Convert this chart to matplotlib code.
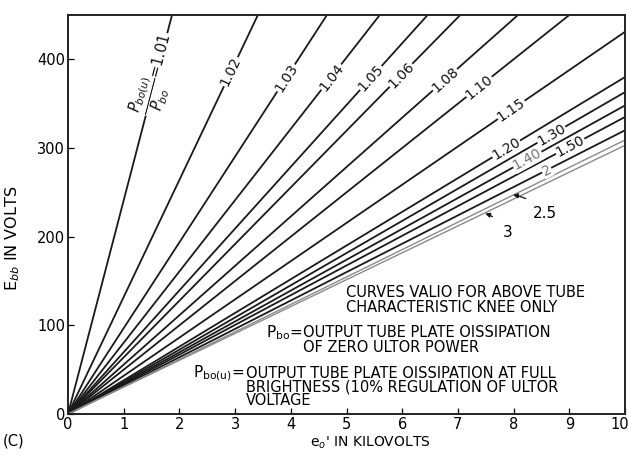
import numpy as np
import matplotlib.pyplot as plt
import matplotlib.transforms as mtransforms

# Ratio P_bo(u)/P_bo for each curve and its slope (E_bb volts per kV of e_o')
ratios = ["1.01", "1.02", "1.03", "1.04", "1.05", "1.06", "1.08", "1.10",
          "1.15", "1.20", "1.30", "1.40", "1.50", "2", "2.5", "3"]
slopes = [241.0, 132.0, 96.8, 80.4, 69.7, 63.9, 55.7, 50.0,
          43.1, 38.0, 36.3, 34.8, 33.5, 32.0, 30.9, 30.3]
# label position along each curve (E_bb value in volts)
label_y = [383, 386, 379, 380, 379, 382, 377, 369,
           343, 299, 315, 287, 302, 275, None, None]

x_ticks = list(range(0, 11))
y_ticks = [0, 100, 200, 300, 400]

W, H = 629, 455
fig = plt.figure(figsize=(W / 100, H / 100), dpi=100)
ax = fig.add_axes([68 / W, (H - 414) / H, (625 - 68) / W, (414 - 15) / H])
ax.set_xlim(0, 10)
ax.set_ylim(0, 450)

x = np.array([0.0, 10.0])
for r, s in zip(ratios, slopes):
    gray = r in ("2.5", "3")
    ax.plot(x, s * x, color="#8a8a8a" if gray else "#1a1a1a",
            lw=1.0 if gray else 1.3, solid_capstyle="butt", zorder=2)

fig.canvas.draw()
def angle_for(s):
    p0 = ax.transData.transform((0, 0))
    p1 = ax.transData.transform((1, s))
    return np.degrees(np.arctan2(p1[1] - p0[1], p1[0] - p0[0]))

for r, s, ly in zip(ratios, slopes, label_y):
    if ly is None:
        continue
    txt = r
    fs = 10
    if r == "1.01":
        txt = r"$\dfrac{P_{bo(u)}}{P_{bo}}$=1.01"
        fs = 10.5
    col = "#777777" if r in ("1.40", "2") else "#111111"
    ax.text(ly / s, ly, txt, rotation=angle_for(s), rotation_mode="anchor",
            ha="center", va="center", fontsize=fs, color=col, zorder=3,
            bbox=dict(facecolor="white", edgecolor="none", pad=0.5))

# annotated lowest curves
arrow = dict(arrowstyle="-|>", color="#111111", lw=0.9,
             connectionstyle="arc3,rad=0.2", shrinkA=7, shrinkB=0,
             mutation_scale=7)
ax.annotate("2.5", xy=(7.99, 247), xytext=(8.56, 226), fontsize=11,
            ha="center", va="center", arrowprops=arrow)
ax.annotate("3", xy=(7.49, 226), xytext=(7.90, 205), fontsize=11,
            ha="center", va="center", arrowprops=arrow)

# notes
note_fs = 10.5
ax.text(5.0, 129, "CURVES VALIO FOR ABOVE TUBE\nCHARACTERISTIC KNEE ONLY",
        fontsize=note_fs, ha="left", va="center", linespacing=1.0, zorder=4)
ax.text(4.20, 92, r"P$_{\mathregular{bo}}$=", fontsize=11, ha="right", va="center")
ax.text(4.22, 83, "OUTPUT TUBE PLATE OISSIPATION\nOF ZERO ULTOR POWER",
        fontsize=note_fs, ha="left", va="center", linespacing=1.0)
ax.text(3.17, 46, r"P$_{\mathregular{bo(u)}}$=", fontsize=11, ha="right", va="center")
ax.text(3.19, 30, "OUTPUT TUBE PLATE OISSIPATION AT FULL\nBRIGHTNESS (10% REGULATION OF ULTOR\nVOLTAGE",
        fontsize=note_fs, ha="left", va="center", linespacing=0.88)

ax.set_xticks(x_ticks)
ax.set_yticks(y_ticks)
ax.tick_params(direction="in", length=4, width=0.9, labelsize=10.5, pad=2,
               top=False, right=False)
for sp in ax.spines.values():
    sp.set_linewidth(1.4)
    sp.set_color("#222222")

# nudge the last x tick label so it stays inside the figure
last = ax.get_xticklabels()[-1]
last.set_transform(last.get_transform() +
                   mtransforms.ScaledTranslation(-5 / 100, 0, fig.dpi_scale_trans))

fig.text(370 / W, 1 - 443 / H, r"e$_o$' IN KILOVOLTS", fontsize=10,
         ha="center", va="center")
fig.text(13 / W, 1 - 238 / H, r"E$_{bb}$ IN VOLTS", fontsize=11.5,
         ha="center", va="center", rotation=90)
fig.text(3 / W, 1 - 441 / H, "(C)", fontsize=10.5, ha="left", va="center")

fig.savefig("out.png", dpi=100)
